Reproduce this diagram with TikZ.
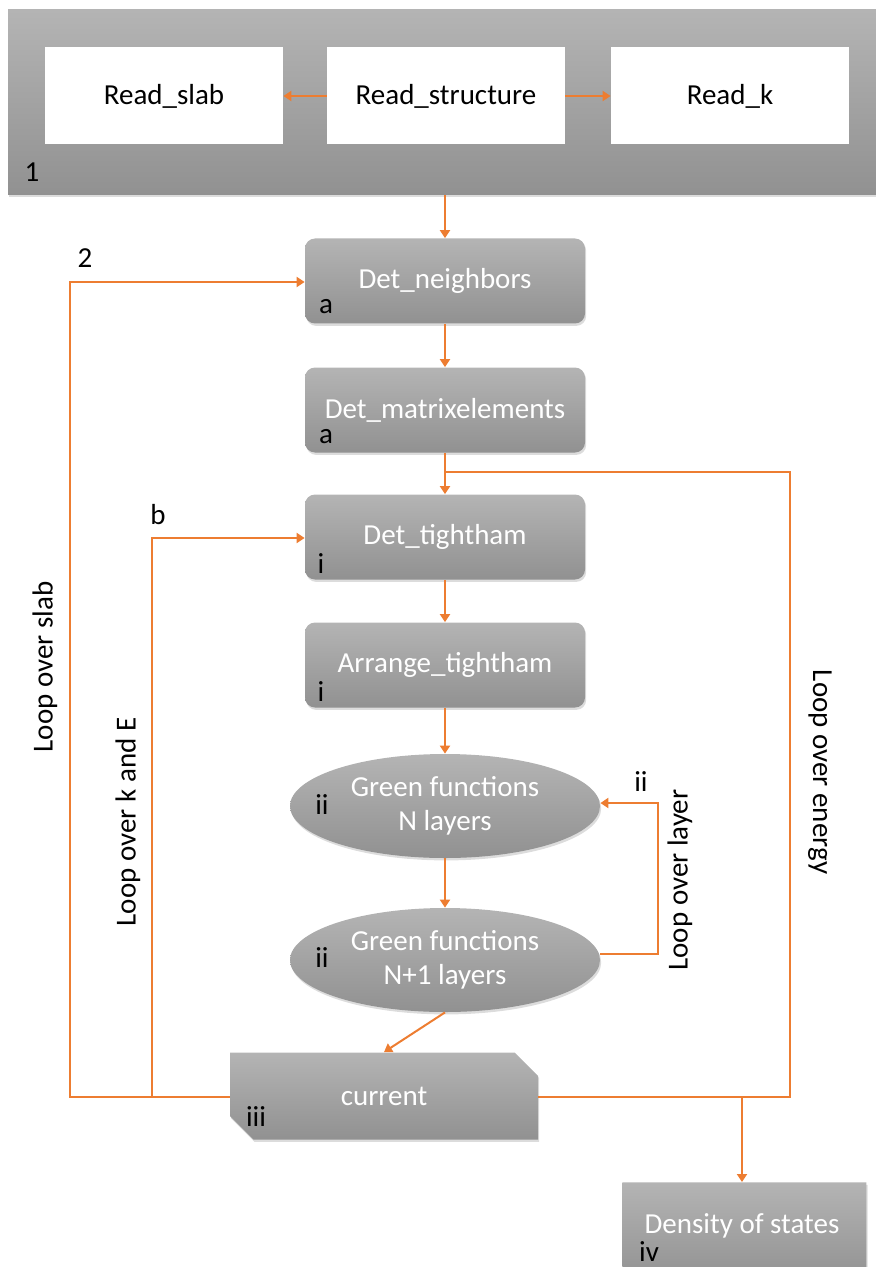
\documentclass[tikz,border=0pt]{standalone}
\usepackage{fontspec}
\setmainfont{Carlito}
\usetikzlibrary{shapes.geometric,shapes.misc,shadows,arrows.meta}
\definecolor{org}{HTML}{ED7D31}
\definecolor{gtop}{HTML}{B4B4B4}
\definecolor{gbot}{HTML}{919191}
\begin{document}
\begin{tikzpicture}[x=0.5pt,y=-0.5pt,
  fnt/.style={font=\fontsize{14.5}{17}\selectfont},
  shad/.style={drop shadow={opacity=0.28,shadow xshift=0.6pt,shadow yshift=-1.2pt}},
  gray/.style={top color=gtop,bottom color=gbot,draw=none,text=white,shad},
  proc/.style={gray,rectangle,rounded corners=5pt,minimum width=140pt,minimum height=42.5pt,inner sep=0pt,fnt},
  ell/.style={gray,ellipse,minimum width=155pt,minimum height=52pt,inner sep=0pt,align=center,fnt},
  cham/.style={gray,chamfered rectangle,chamfered rectangle xsep=7.5pt,chamfered rectangle ysep=7pt,inner sep=0pt,fnt},
  wbox/.style={rectangle,fill=white,draw=none,minimum width=119pt,minimum height=48.5pt,inner sep=0pt,fnt},
  lab/.style={fnt,text=black,inner sep=0pt},
  loopl/.style={fnt,text=black,inner sep=0pt},
  line/.style={draw=org,line width=1pt},
  arr/.style={line,-{Triangle[width=5pt,length=4pt]}}]
\useasboundingbox (0,0) rectangle (876,1267);
% banner
\node[gray,rectangle,minimum width=437pt,minimum height=92.5pt,inner sep=0pt] (banner) at (445,102.5) {};
\node[wbox] (rsl) at (164,96) {Read\_slab};
\node[wbox] (rst) at (446,96) {Read\_structure};
\node[wbox] (rk) at (730,96) {Read\_k};
\node[lab] (l1) at (32,172) {1};
\draw[arr] (rst.west) -- (rsl.east);
\draw[arr] (rst.east) -- (rk.west);
% main chain
\node[proc] (dn) at (445,281) {Det\_neighbors};
\node[proc] (dm) at (445,410) {Det\_matrixelements};
\node[proc] (dt) at (445,537) {Det\_tightham};
\node[proc] (at) at (445,665) {Arrange\_tightham};
\node[ell] (g1) at (445,806) {Green functions\\N layers};
\node[ell] (g2) at (445,960) {Green functions\\N+1 layers};
\node[cham,chamfered rectangle corners={north east,south west},minimum width=154pt,minimum height=43.5pt] (cur) at (384,1096) {current};
\node[cham,chamfered rectangle corners={north east},chamfered rectangle xsep=8pt,chamfered rectangle ysep=8pt,minimum width=122pt,minimum height=50pt,anchor=north west] (dos) at (622,1182) {};
\node[fnt,text=white,inner sep=0pt] (dost) at (742,1226) {Density of states};
% small labels
\node[lab] (la1) at (326,307) {a};
\node[lab] (la2) at (326,437) {a};
\node[lab] (li1) at (321,564) {i};
\node[lab] (li2) at (321,692) {i};
\node[lab] (lii1) at (322,805) {ii};
\node[lab] (lii2) at (322,958) {ii};
\node[lab] (lii3) at (641,782) {ii};
\node[lab] (liii) at (256,1117) {iii};
\node[lab] (liv) at (649,1252) {iv};
\node[lab] (l2) at (85,258) {2};
\node[lab] (lb) at (158,515) {b};
% chain arrows
\draw[arr] (dn.north |- banner.south) -- (dn.north);
\draw[arr] (dn) -- (dm);
\draw[arr] (dm) -- (dt);
\draw[arr] (at.north |- dt.south) -- (at.north);
\draw[arr] (at) -- (g1);
\draw[arr] (g1) -- (g2);
\draw[arr] (g2.south) -- (cur.north);
% loop over layer
\coordinate (ly1) at (658,954);
\coordinate (ly2) at (658,803);
\draw[arr] (g2.east |- ly1) -- (ly1) -- (ly2) -- (g1.east |- ly2);
\node[loopl,rotate=90] (llayer) at (680,880) {Loop over layer};
% loop over energy
\coordinate (e0) at (445,472);
\coordinate (e1) at (790,472);
\coordinate (e2) at (790,1097);
\draw[line] (e0) -- (e1) -- (e2) -- (cur.east |- e2);
\coordinate (j2) at (742,1097);
\draw[arr] (j2) -- (j2 |- dos.north);
\node[loopl,rotate=-90] (lenergy) at (820,772) {Loop over energy};
% loop over k and E
\coordinate (k0) at (152,1097);
\coordinate (k1) at (152,538);
\draw[arr] (cur.west |- k0) -- (k0) -- (k1) -- (dt.west |- k1);
\node[loopl,rotate=90] (lkE) at (128,822) {Loop over k and E};
% loop over slab
\coordinate (s0) at (70,1097);
\coordinate (s1) at (70,282);
\draw[arr] (k0) -- (s0) -- (s1) -- (dn.west |- s1);
\node[loopl,rotate=90] (lslab) at (45,667) {Loop over slab};
\end{tikzpicture}
\end{document}
